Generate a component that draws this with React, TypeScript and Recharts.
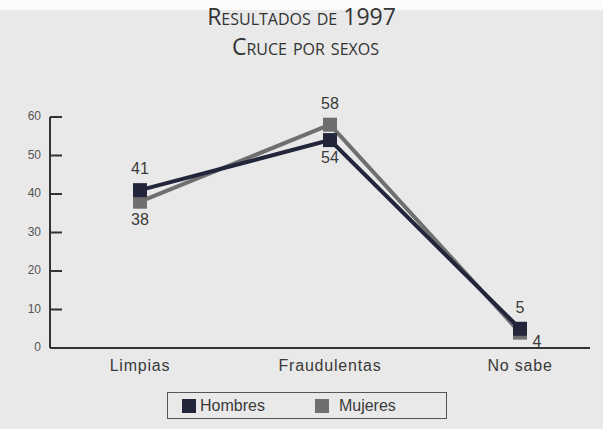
import { LabelList, Line, LineChart, XAxis, YAxis } from "recharts";

const CATEGORIES = ["Limpias", "Fraudulentas", "No sabe"];
const HOMBRES = [41, 54, 5];
const MUJERES = [38, 58, 4];
const Y_TICKS = [0, 10, 20, 30, 40, 50, 60];

const DARK = "#23263a";
const GRAY = "#6f6f72";

const rows = CATEGORIES.map((name, i) => ({ name, hombres: HOMBRES[i], mujeres: MUJERES[i] }));

const SquareDot = ({ cx, cy, fill }: any) => (
  <rect x={cx - 7} y={cy - 7} width={14} height={14} fill={fill} />
);

// label above the marker when this series is the higher one, below otherwise
const makeLabel = (own: number[], other: number[]) => (props: any) => {
  const { x, y, index } = props;
  const above = own[index] >= other[index];
  const last = index === own.length - 1;
  const dx = !above && last ? 17 : 0;
  const dy = above ? -20 : last ? 10 : 19;
  return (
    <text x={x + dx} y={y + dy} textAnchor="middle" dominantBaseline="middle" fill="#3a3a3a" fontSize={16}>
      {own[index]}
    </text>
  );
};

const YTick = ({ x, y, payload }: any) => (
  <g>
    <text x={x} y={y} textAnchor="end" dominantBaseline="middle" fill="#555" fontSize={12}>
      {payload.value}
    </text>
    {payload.value > 0 && <line x1={x + 9} x2={x + 21} y1={y} y2={y} stroke="#333" strokeWidth={2} />}
  </g>
);

export default function App() {
  return (
    <div
      style={{
        position: "absolute",
        left: 0,
        top: 0,
        width: 603,
        height: 429,
        background: "#e9e9e9",
        fontFamily: "Arial, sans-serif",
        overflow: "hidden",
      }}
    >
      <div style={{ position: "absolute", left: 0, top: 0, width: 603, height: 10, background: "#fbfbfb" }} />
      <div
        style={{
          position: "absolute",
          left: 0,
          width: 603,
          top: 1,
          textAlign: "center",
          fontFamily: "'Open Sans', sans-serif",
          fontVariant: "small-caps",
          color: "#333",
          lineHeight: "30px",
        }}
      >
        <div style={{ fontSize: 23 }}>Resultados de 1997</div>
        <div style={{ fontSize: 23, marginLeft: 8 }}>Cruce por sexos</div>
      </div>
      <LineChart width={603} height={429} data={rows} margin={{ top: 117, right: 13, bottom: 61, left: 0 }}>
        <XAxis
          dataKey="name"
          padding={{ left: 90, right: 70 }}
          axisLine={{ stroke: "#333", strokeWidth: 2 }}
          tickLine={false}
          tick={{ fill: "#3a3a3a", fontSize: 16, letterSpacing: 0.8 }}
          tickMargin={6}
          height={20}
        />
        <YAxis
          domain={[0, 60]}
          ticks={Y_TICKS}
          width={50}
          tickSize={0}
          tickMargin={9}
          tickLine={false}
          axisLine={{ stroke: "#333", strokeWidth: 2 }}
          tick={<YTick />}
        />
        <Line
          dataKey="mujeres"
          name="Mujeres"
          stroke={GRAY}
          strokeWidth={4}
          dot={<SquareDot fill={GRAY} />}
          activeDot={false}
          isAnimationActive={false}
        >
          <LabelList dataKey="mujeres" content={makeLabel(MUJERES, HOMBRES)} />
        </Line>
        <Line
          dataKey="hombres"
          name="Hombres"
          stroke={DARK}
          strokeWidth={4}
          dot={<SquareDot fill={DARK} />}
          activeDot={false}
          isAnimationActive={false}
        >
          <LabelList dataKey="hombres" content={makeLabel(HOMBRES, MUJERES)} />
        </Line>
      </LineChart>
      <div
        style={{
          position: "absolute",
          left: 167,
          top: 392,
          width: 280,
          height: 27,
          boxSizing: "border-box",
          border: "1.5px solid #555",
          display: "flex",
          alignItems: "center",
          fontSize: 16,
          color: "#3a3a3a",
        }}
      >
        <span style={{ width: 14, height: 14, background: DARK, marginLeft: 14, marginRight: 4 }} />
        <span>Hombres</span>
        <span style={{ width: 14, height: 14, background: GRAY, marginLeft: 50, marginRight: 10 }} />
        <span>Mujeres</span>
      </div>
    </div>
  );
}
